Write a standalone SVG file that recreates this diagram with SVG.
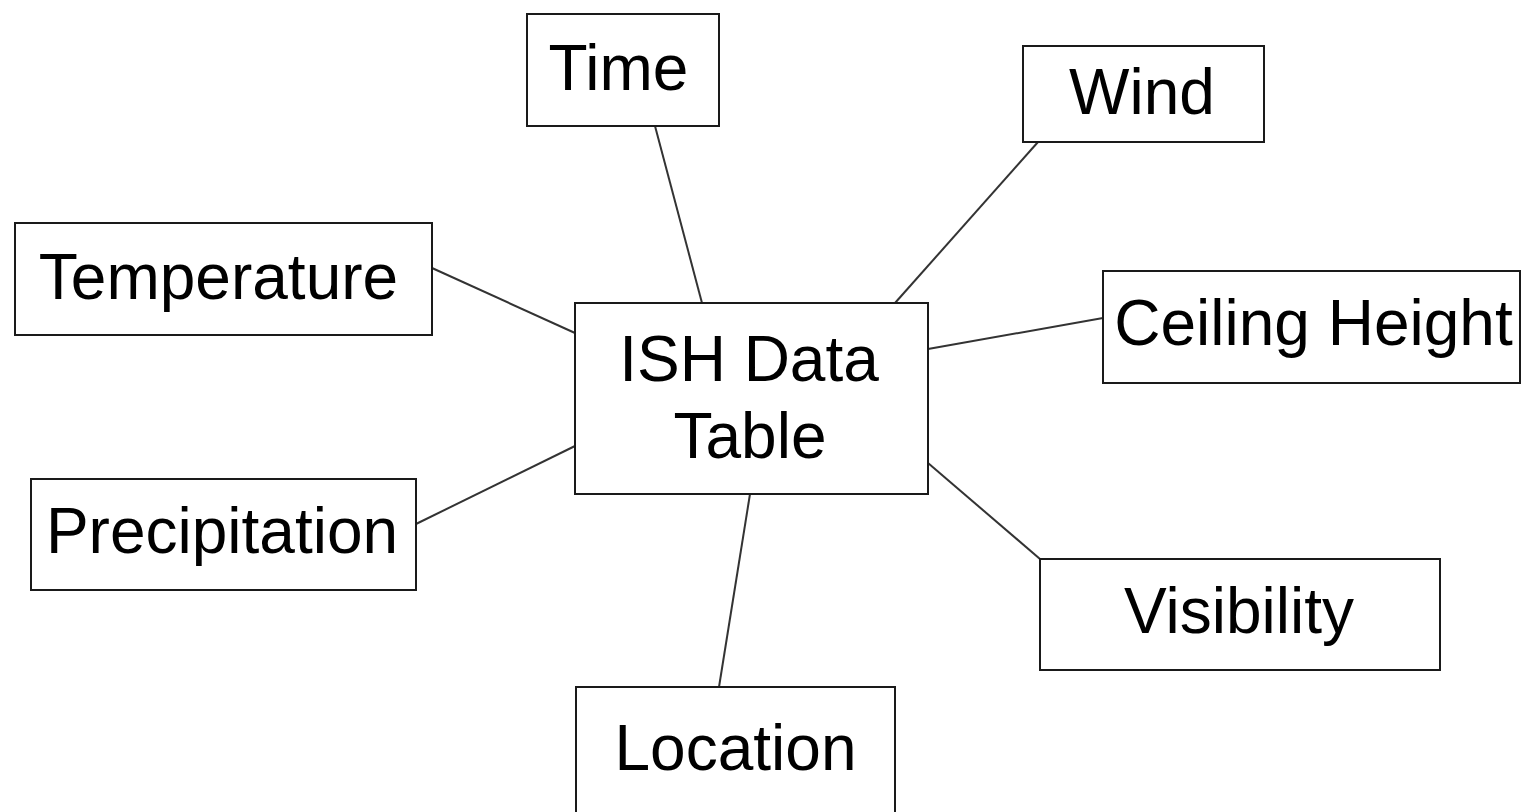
<svg xmlns="http://www.w3.org/2000/svg" width="1523" height="812" viewBox="0 0 1523 812">
<style>
.box{fill:#fff;stroke:#1a1a1a;stroke-width:2}
.lbl{font-family:"Liberation Sans",Arial,sans-serif;font-size:64px;fill:#000;text-anchor:middle}
.edge{stroke:#333;stroke-width:2;fill:none}
</style>
<rect width="1523" height="812" fill="#fff"/>
<g id="connectors">
<line class="edge" x1="655" y1="126" x2="702" y2="303"/>
<line class="edge" x1="1038" y1="142" x2="895" y2="303"/>
<line class="edge" x1="432" y1="268" x2="575" y2="333"/>
<line class="edge" x1="416" y1="524" x2="575" y2="446"/>
<line class="edge" x1="1103" y1="318" x2="928" y2="349"/>
<line class="edge" x1="1040" y1="559" x2="928" y2="463"/>
<line class="edge" x1="719" y1="687" x2="750" y2="494"/>
</g>
<g id="node-time">
<rect class="box" x="527" y="14" width="192" height="112"/>
<text class="lbl" x="618.5" y="90">Time</text>
</g>
<g id="node-wind">
<rect class="box" x="1023" y="46" width="241" height="96"/>
<text class="lbl" x="1142" y="114">Wind</text>
</g>
<g id="node-temperature">
<rect class="box" x="15" y="223" width="417" height="112"/>
<text class="lbl" x="218.5" y="299">Temperature</text>
</g>
<g id="node-ceiling">
<rect class="box" x="1103" y="271" width="417" height="112"/>
<text class="lbl" x="1313.5" y="345">Ceiling Height</text>
</g>
<g id="node-ish">
<rect class="box" x="575" y="303" width="353" height="191"/>
<text class="lbl" x="749" y="381">ISH Data</text>
<text class="lbl" x="750" y="458">Table</text>
</g>
<g id="node-precipitation">
<rect class="box" x="31" y="479" width="385" height="111"/>
<text class="lbl" x="222" y="553">Precipitation</text>
</g>
<g id="node-visibility">
<rect class="box" x="1040" y="559" width="400" height="111"/>
<text class="lbl" x="1239" y="633">Visibility</text>
</g>
<g id="node-location">
<rect class="box" x="576" y="687" width="319" height="140"/>
<text class="lbl" x="735.5" y="770">Location</text>
</g>
</svg>
